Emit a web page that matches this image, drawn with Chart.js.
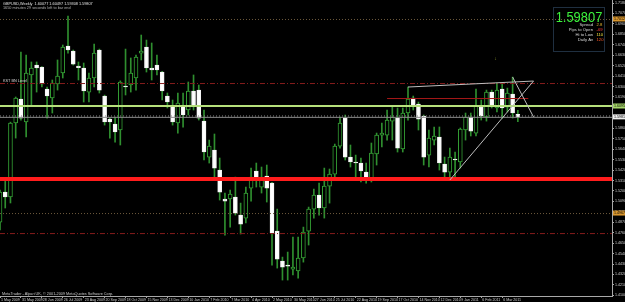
<!DOCTYPE html>
<html>
<head>
<meta charset="utf-8">
<script src="https://cdn.jsdelivr.net/npm/chart.js@4.4.0/dist/chart.umd.min.js"></script>
<style>
  html, body { margin: 0; padding: 0; background: #000; overflow: hidden; }
</style>
</head>
<body>
<canvas id="c" width="625" height="302"></canvas>
<script>
// GBPUSD weekly, one entry per week from early May 2009
var opens = [1.4872,1.5188,1.5136,1.5916,1.6168,1.5926,1.6422,1.6527,1.6506,1.6274,
  1.6179,1.6327,1.6443,1.6727,1.6674,1.6515,1.6495,1.6242,1.6390,1.6685,
  1.6200,1.5957,1.5905,1.5842,1.6305,1.6316,1.6390,1.6653,1.6717,1.6495,
  1.6527,1.6453,1.6200,1.6095,1.5916,1.6095,1.6053,1.6253,1.6263,1.5936,
  1.5557,1.5631,1.5420,1.5115,1.5115,1.5136,1.4946,1.4914,1.5230,1.5409,
  1.5241,1.5357,1.5283,1.4777,1.4461,1.4419,1.4377,1.4356,1.4493,1.4777,
  1.5009,1.5157,1.5020,1.5251,1.5378,1.5673,1.5968,1.5557,1.5505,1.5494,
  1.5399,1.5325,1.5589,1.5789,1.5789,1.5936,1.5968,1.5642,1.6021,1.6179,
  1.6116,1.5989,1.5578,1.5736,1.5768,1.5484,1.5399,1.5536,1.5505,1.5842,
  1.5979,1.5810,1.6084,1.5979,1.6242,1.6074,1.6274,1.6084,1.6221,1.6008];
var highs = [1.5209,1.5315,1.5925,1.6190,1.6664,1.6632,1.6559,1.6559,1.6510,1.6295,
  1.6369,1.6580,1.6738,1.7043,1.6685,1.6559,1.6548,1.6443,1.6748,1.6695,
  1.6210,1.5968,1.5979,1.6360,1.6695,1.6601,1.6632,1.6843,1.6790,1.6759,
  1.6632,1.6460,1.6232,1.6158,1.6232,1.6232,1.6348,1.6422,1.6316,1.6053,
  1.5736,1.5800,1.5547,1.5178,1.5209,1.5346,1.5072,1.5241,1.5441,1.5494,
  1.5452,1.5473,1.5290,1.5009,1.4503,1.4556,1.4714,1.4714,1.4819,1.5030,
  1.5220,1.5283,1.5441,1.5431,1.5694,1.5979,1.6000,1.5684,1.5578,1.5547,
  1.5494,1.5705,1.5810,1.5915,1.6053,1.6084,1.6074,1.6074,1.6295,1.6200,
  1.6137,1.6000,1.5842,1.5874,1.5874,1.5557,1.5652,1.5610,1.5863,1.6021,
  1.6021,1.6274,1.6158,1.6263,1.6263,1.6337,1.6337,1.6284,1.6400,1.6050];
var lows = [1.4788,1.5020,1.5073,1.5757,1.5947,1.5768,1.6105,1.6242,1.6295,1.5968,
  1.6021,1.6263,1.6390,1.6653,1.6527,1.6369,1.6137,1.6137,1.6295,1.6232,
  1.5894,1.5757,1.5715,1.5684,1.6211,1.6242,1.6263,1.6580,1.6453,1.6369,
  1.6422,1.6158,1.6074,1.5894,1.5810,1.5873,1.6000,1.6053,1.5947,1.5526,
  1.5494,1.5346,1.5104,1.4735,1.4819,1.4946,1.4746,1.4862,1.5093,1.5241,
  1.5178,1.5083,1.4419,1.4387,1.4261,1.4261,1.4314,1.4282,1.4450,1.4630,
  1.4914,1.4946,1.4914,1.5072,1.5336,1.5652,1.5526,1.5452,1.5346,1.5294,
  1.5283,1.5294,1.5473,1.5663,1.5736,1.5736,1.5610,1.5610,1.5947,1.6053,
  1.5842,1.5473,1.5452,1.5684,1.5420,1.5315,1.5315,1.5346,1.5441,1.5736,
  1.5779,1.5779,1.5947,1.5936,1.6074,1.6032,1.5968,1.6032,1.5968,1.5931];
var closes = [1.5188,1.5136,1.5916,1.6179,1.5968,1.6443,1.6495,1.6495,1.6327,1.6200,
  1.6337,1.6411,1.6717,1.6685,1.6537,1.6500,1.6253,1.6390,1.6653,1.6263,
  1.5926,1.5926,1.5821,1.6348,1.6295,1.6443,1.6611,1.6674,1.6495,1.6474,
  1.6474,1.6253,1.6137,1.5926,1.6126,1.6000,1.6253,1.6095,1.5968,1.5610,
  1.5673,1.5441,1.5188,1.5093,1.5167,1.4967,1.4851,1.5178,1.5346,1.5336,
  1.5346,1.5230,1.4756,1.4482,1.4398,1.4408,1.4398,1.4493,1.4767,1.5009,
  1.5157,1.5020,1.5251,1.5378,1.5673,1.5916,1.5557,1.5505,1.5494,1.5410,
  1.5325,1.5599,1.5789,1.5810,1.5947,1.5979,1.5652,1.6021,1.6168,1.6105,
  1.5957,1.5557,1.5757,1.5779,1.5494,1.5399,1.5557,1.5526,1.5852,1.5979,
  1.5831,1.6095,1.5989,1.6242,1.6105,1.6263,1.6074,1.6232,1.6021,1.59807];

var dateLabels = ["1 May 2009","31 May 2009","28 Jun 2009","26 Jul 2009","23 Aug 2009",
  "20 Sep 2009","18 Oct 2009","15 Nov 2009","13 Dec 2009","10 Jan 2010","7 Feb 2010",
  "7 Mar 2010","4 Apr 2010","2 May 2010","30 May 2010","27 Jun 2010","25 Jul 2010",
  "22 Aug 2010","19 Sep 2010","17 Oct 2010","14 Nov 2010","12 Dec 2010","9 Jan 2011",
  "6 Feb 2011","6 Mar 2011"];
var priceTicks = [1.4100,1.4210,1.4320,1.4430,1.4540,1.4650,1.4760,1.4870,1.4980,1.5090,
  1.5200,1.5310,1.5420,1.5530,1.5640,1.5750,1.5860,1.5970,1.6080,1.6190,1.6300,1.6410,
  1.6520,1.6630,1.6740,1.6850,1.6960,1.7070,1.7180];

// horizontal levels drawn on the chart
var dottedLevels = [1.7012, 1.5995, 1.4967];
var dashDotLevels = [1.6337, 1.4756];
var greenLevel = 1.6095;
var redLevel = 1.5325;
var shortRedLine = [74, 1.6179, 101, 1.6179];
// trend lines: [barFrom, priceFrom, barTo, priceTo]
var trendLines = [[78, 1.6295, 102, 1.6358], [86, 1.5315, 102, 1.6358], [98, 1.6400, 102, 1.5979]];

var yMin = 1.4093, yMax = 1.7212;
var slots = 118;
var font = '"Liberation Sans", Arial, sans-serif';

var labels = [];
for (var i = 0; i < slots; i++) {
  labels.push(i % 4 === 0 && i / 4 < dateLabels.length ? dateLabels[i / 4] : '');
}
var wicks = [], bodies = [], bodyFill = [], bodyLine = [];
for (i = 0; i < closes.length; i++) {
  wicks.push([lows[i], highs[i]]);
  var lo = Math.min(opens[i], closes[i]), hi = Math.max(opens[i], closes[i]);
  if (hi - lo < 0.0008) { var m = (hi + lo) / 2; lo = m - 0.0004; hi = m + 0.0004; }
  bodies.push([lo, hi]);
  var up = closes[i] >= opens[i];
  bodyFill.push(up ? '#000000' : '#ffffff');
  bodyLine.push(up ? '#34a034' : '#f4f4f4');
}

var bgPlugin = {
  id: 'bg',
  beforeDraw: function(chart) {
    var c = chart.ctx;
    c.save();
    c.fillStyle = '#000';
    c.fillRect(0, 0, chart.width, chart.height);
    c.restore();
  }
};

function hline(c, area, y, color, width, dash) {
  c.save();
  c.strokeStyle = color;
  c.lineWidth = width;
  c.setLineDash(dash || []);
  c.beginPath();
  c.moveTo(area.left, y);
  c.lineTo(area.right, y);
  c.stroke();
  c.restore();
}

function axisBox(c, area, y, value, fill) {
  c.save();
  c.fillStyle = fill;
  c.fillRect(area.right + 1, y - 2.5, 12, 5);
  c.fillStyle = '#000';
  c.font = '3.6px ' + font;
  c.textBaseline = 'middle';
  c.fillText(value.toFixed(4), area.right + 2, y);
  c.restore();
}

var overlay = {
  id: 'overlay',
  afterDatasetsDraw: function(chart) {
    var c = chart.ctx, a = chart.chartArea;
    var xs = chart.scales.x, ys = chart.scales.y;
    c.save();
    c.beginPath();
    c.rect(a.left, a.top, a.right - a.left, a.bottom - a.top);
    c.clip();
    dottedLevels.forEach(function(p, k) {
      hline(c, a, ys.getPixelForValue(p) + 0.5, k === 1 ? '#8a8a8a' : '#6e5a3c', 1, [1, 2]);
    });
    dashDotLevels.forEach(function(p) {
      hline(c, a, ys.getPixelForValue(p) + 0.5, '#861c1c', 1, [5, 2, 1, 2]);
    });
    hline(c, a, ys.getPixelForValue(closes[closes.length - 1]) + 0.5, '#8c8c8c', 1);
    hline(c, a, ys.getPixelForValue(greenLevel), '#b6e07c', 2);
    hline(c, a, ys.getPixelForValue(redLevel), '#ff1c1c', 4);

    c.strokeStyle = '#a81818';
    c.lineWidth = 1;
    c.beginPath();
    c.moveTo(xs.getPixelForValue(shortRedLine[0]), ys.getPixelForValue(shortRedLine[1]) + 0.5);
    c.lineTo(xs.getPixelForValue(shortRedLine[2]), ys.getPixelForValue(shortRedLine[3]) + 0.5);
    c.stroke();

    c.strokeStyle = '#bdbdbd';
    trendLines.forEach(function(t) {
      c.beginPath();
      c.moveTo(xs.getPixelForValue(t[0]), ys.getPixelForValue(t[1]));
      c.lineTo(xs.getPixelForValue(t[2]), ys.getPixelForValue(t[3]));
      c.stroke();
    });
    c.restore();
  },
  afterDraw: function(chart) {
    var c = chart.ctx, a = chart.chartArea, ys = chart.scales.y, xs = chart.scales.x;
    // price labels of the lines on the axis
    axisBox(c, a, ys.getPixelForValue(dottedLevels[0]), dottedLevels[0], '#d8962e');
    axisBox(c, a, ys.getPixelForValue(dottedLevels[2]), dottedLevels[2], '#d8962e');
    axisBox(c, a, ys.getPixelForValue(greenLevel), greenLevel, '#a6d66a');
    axisBox(c, a, ys.getPixelForValue(closes[closes.length - 1]), closes[closes.length - 1], '#f0f0f0');

    c.save();
    c.font = '3.8px ' + font;
    c.textBaseline = 'alphabetic';
    c.fillStyle = '#e0e0e0';
    c.fillText('GBPUSD,Weekly  1.60077 1.60497 1.59308 1.59807', 3, 5);
    c.fillStyle = '#b0b0b0';
    c.fillText('1650 minutes 29 seconds left to bar end', 3, 9);
    c.fillStyle = '#c8c8c8';
    c.fillText('MetaTrader - Alpari UK, \u00a9 2001-2009 MetaQuotes Software Corp.', 2, 295);
    c.fillStyle = '#d8d8d8';
    c.fillText('KST BN Level', 3, 82);
    c.fillStyle = '#8c9a2a';
    c.font = '5px ' + font;
    c.fillText('\u2193', xs.getPixelForValue(94.5), 60);

    // info panel
    c.strokeStyle = '#3e5f80';
    c.lineWidth = 1;
    c.setLineDash([1, 1]);
    c.strokeRect(553.5, 7.5, 51, 44);
    c.setLineDash([]);
    c.save();
    c.translate(579, 22);
    c.scale(0.86, 1);
    c.font = '15px ' + font;
    c.textAlign = 'center';
    c.fillStyle = '#3cf23c';
    c.fillText(closes[closes.length - 1].toFixed(5), 0, 0);
    c.restore();
    var rows = [['Spread', '2.8', '#e8b830'], ['Pips to Open', '-69', '#ff3c3c'],
                ['Hi to Low', '110', '#f0e040'], ['Daily Av', '120', '#ff5a28']];
    c.font = '4.2px ' + font;
    rows.forEach(function(r, k) {
      var y = 26 + k * 5;
      c.textAlign = 'right';
      c.fillStyle = '#d6d6d6';
      c.fillText(r[0], 593, y);
      c.textAlign = 'left';
      c.fillStyle = r[2];
      c.fillText(r[1], 596.5, y);
    });
    c.restore();
  }
};

new Chart(document.getElementById('c'), {
  type: 'bar',
  data: {
    labels: labels,
    datasets: [
      { label: 'body', data: bodies, backgroundColor: bodyFill, borderColor: bodyLine,
        borderWidth: 1, borderSkipped: false, barThickness: 4, grouped: false, order: 0 },
      { label: 'wick', data: wicks, backgroundColor: '#2f8f2f', borderWidth: 0,
        barThickness: 1, grouped: false, order: 1 }
    ]
  },
  options: {
    responsive: false,
    animation: false,
    events: [],
    layout: { padding: 0 },
    plugins: { legend: { display: false }, tooltip: { enabled: false } },
    scales: {
      x: {
        offset: false,
        grid: {
          offset: false, drawOnChartArea: false, tickLength: 2,
          color: function(ctx) { return labels[ctx.index] ? '#a0a0a0' : 'rgba(0,0,0,0)'; }
        },
        border: { color: '#a8a8a8' },
        ticks: { autoSkip: false, maxRotation: 0, minRotation: 0, align: 'start', padding: 0,
          labelOffset: 1, color: '#d0d0d0', font: { size: 3.6, family: font } },
        afterFit: function(s) { s.height = 6; s.paddingLeft = 0; s.paddingRight = 0; }
      },
      y: {
        position: 'right',
        min: yMin,
        max: yMax,
        afterBuildTicks: function(s) { s.ticks = priceTicks.map(function(v) { return { value: v }; }); },
        ticks: { padding: 1, color: '#d0d0d0', font: { size: 3.6, family: font },
          callback: function(v) { return v.toFixed(4); } },
        grid: { drawOnChartArea: false, tickLength: 2, color: '#a8a8a8' },
        border: { color: '#a8a8a8' },
        afterFit: function(s) { s.width = 13; s.paddingTop = 0; s.paddingBottom = 0; }
      }
    }
  },
  plugins: [bgPlugin, overlay]
});
</script>
</body>
</html>
